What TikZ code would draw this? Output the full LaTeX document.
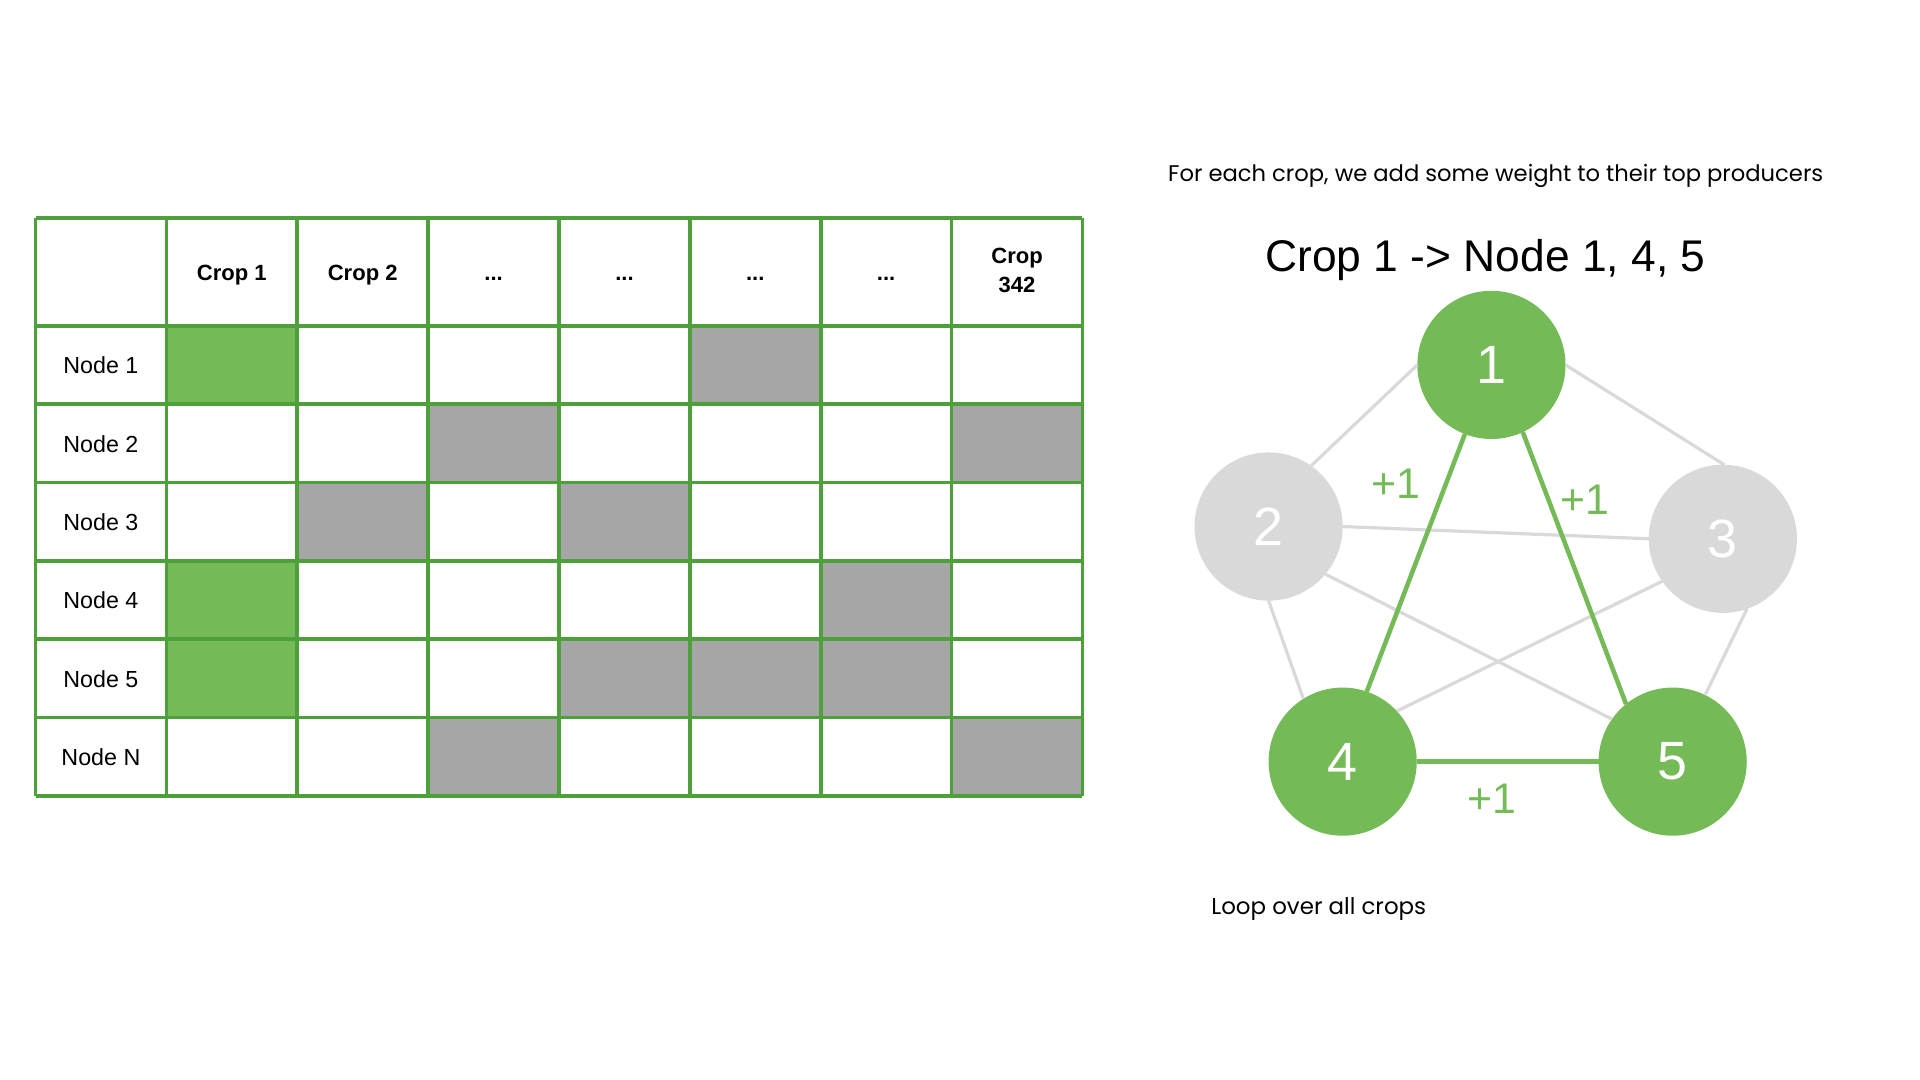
\documentclass[tikz,border=0pt]{standalone}
\usepackage{fontspec}
\usepackage{graphicx}
\setmainfont{Liberation Sans}
\newfontfamily\geofont{Poppins}
\newfontfamily\titlefont{Liberation Sans}
\definecolor{tgreen}{HTML}{4EA03A}
\definecolor{fgreen}{HTML}{74BB57}
\definecolor{fgray}{HTML}{A6A6A6}
\definecolor{lgray}{HTML}{D9D9D9}
\begin{document}
\begin{tikzpicture}[x=0.5pt,y=-0.5pt,
  gridline/.style={tgreen,line width=1.5pt},
  rowlab/.style={font=\fontsize{9.5}{11}\selectfont,text height=0.72em,text depth=0pt,inner sep=0pt},
  hdr/.style={font=\bfseries\fontsize{9}{11}\selectfont,text height=0.72em,text depth=0pt,inner sep=0pt},
  gnode/.style={circle,minimum size=60.5pt,inner sep=0pt,outer sep=0pt,text=white,font=\titlefont\fontsize{22}{24}\selectfont},
  gon/.style={gnode,fill=fgreen},
  goff/.style={gnode,fill=lgray},
  gedge/.style={lgray,line width=1.3pt},
  gedgeon/.style={fgreen,line width=1.85pt},
  plus/.style={text=fgreen,font=\titlefont\fontsize{17.5}{20}\selectfont,inner sep=0pt}]
\useasboundingbox (0,0) rectangle (1568,882);
\fill[white] (0,0) rectangle (1568,882);
% table fills
\foreach \c/\r/\col in {1/1/fgreen,5/1/fgray,3/2/fgray,7/2/fgray,2/3/fgray,4/3/fgray,1/4/fgreen,6/4/fgray,1/5/fgreen,4/5/fgray,5/5/fgray,6/5/fgray,3/6/fgray,7/6/fgray}
  \fill[\col] ({29+106.875*\c},{266+64*(\r-1)}) rectangle ++(106.875,64);
% grid
\foreach \i in {0,...,8} \draw[gridline] ({29+106.875*\i},178) -- ({29+106.875*\i},650);
\draw[gridline] (29,178) -- (884,178);
\foreach \j in {0,...,6} \draw[gridline] (29,{266+64*\j}) -- (884,{266+64*\j});
% headers
\node[hdr] (h1) at (189.3,222) {Crop 1};
\node[hdr] (h2) at (296.2,222) {Crop 2};
\node[hdr] (h3) at (403.1,222) {...};
\node[hdr] (h4) at (510.0,222) {...};
\node[hdr] (h5) at (616.8,222) {...};
\node[hdr] (h6) at (723.7,222) {...};
\node[align=center,font=\bfseries\fontsize{9}{12}\selectfont,inner sep=0pt] (h7) at (830.6,221) {Crop\\342};
% row labels
\foreach \t [count=\i] in {Node 1,Node 2,Node 3,Node 4,Node 5,Node N}
  \node[rowlab] (r\i) at (82.4,{298+64*(\i-1)}) {\t};
% texts right
\node[anchor=base,inner sep=0pt] (sub) at (1221.5,148) {\resizebox{267.5pt}{!}{\geofont\fontsize{9}{11}\selectfont For each crop, we add some weight to their top producers}};
\node[anchor=base,inner sep=0pt] (title) at (1213,222) {\resizebox{179.75pt}{!}{\titlefont\fontsize{20}{24}\selectfont Crop 1 -> Node 1, 4, 5}};
\node[anchor=base,inner sep=0pt] (loop) at (1077,747) {\resizebox{87.7pt}{!}{\geofont\fontsize{9}{11}\selectfont Loop over all crops}};
% graph
\node[gon] (c1) at (1218,298) {1};
\node[goff] (c2) at (1036,430) {2};
\node[goff] (c3) at (1407,440) {3};
\node[gon] (c4) at (1096.5,622) {4};
\node[gon] (c5) at (1366,622) {5};
\draw[gedge] (c1.180) -- (c2.55);
\draw[gedge] (c1.0) -- (c3.89);
\draw[gedge] (c2.0) -- (c3.180);
\draw[gedge] (c2.270) -- (c4.122);
\draw[gedge] (c2.-40) -- (c5.145);
\draw[gedge] (c3.215) -- (c4.43);
\draw[gedge] (c3.289) -- (c5.64);
\draw[gedgeon] (c1.249) -- (c4.71.5);
\draw[gedgeon] (c1.295) -- (c5.129);
\draw[gedgeon] (c4.0) -- (c5.180);
\node[plus] (p14) at (1140,395) {+1};
\node[plus] (p15) at (1294,408) {+1};
\node[plus] (p45) at (1218,652) {+1};
\end{tikzpicture}
\end{document}
